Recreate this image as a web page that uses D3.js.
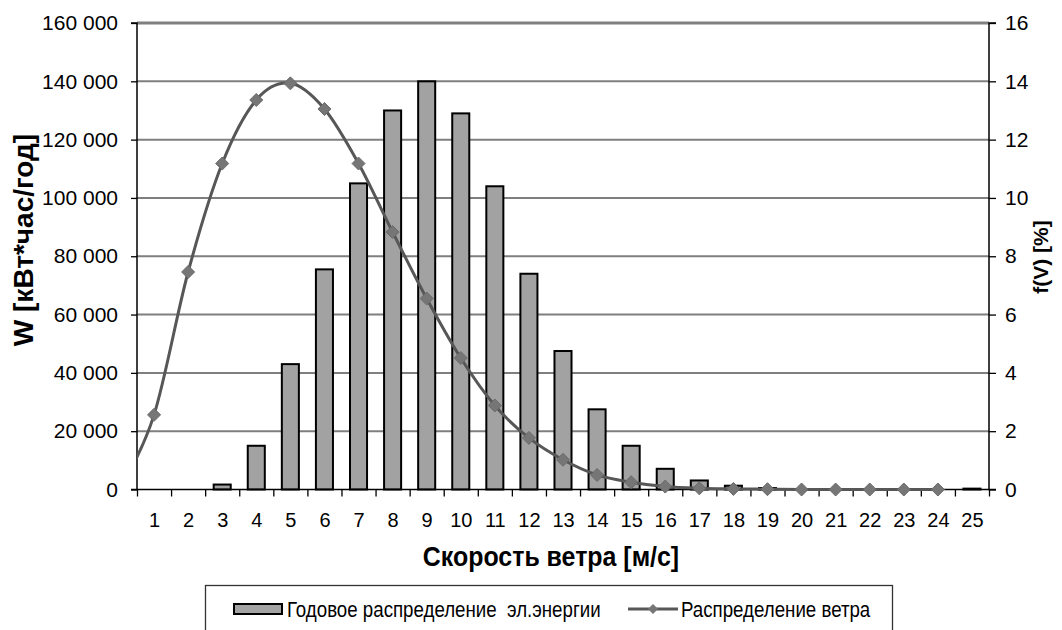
<!DOCTYPE html>
<html><head><meta charset="utf-8">
<script src="https://cdn.jsdelivr.net/npm/d3@7"></script>
<style>
html,body{margin:0;padding:0;background:#fff;}
svg{display:block;}
text{font-family:"Liberation Sans",Arial,sans-serif;fill:#000;}
</style></head>
<body>
<svg id="chart" width="1062" height="630"></svg>
<script>
// ---- data ----
const speeds = [1,2,3,4,5,6,7,8,9,10,11,12,13,14,15,16,17,18,19,20,21,22,23,24,25];
const energy = [0,0,1700,15000,43000,75500,105000,130000,140000,129000,104000,74000,47500,27500,15000,7100,3100,1300,500,0,0,0,0,0,300];
const windSpeeds = [0,1,2,3,4,5,6,7,8,9,10,11,12,13,14,15,16,17,18,19,20,21,22,23,24];
const windFreq =   [0,2.56,7.46,11.18,13.36,13.93,13.05,11.18,8.83,6.55,4.51,2.88,1.77,1.02,0.5,0.25,0.1,0.04,0.02,0.01,0,0,0,0,0];
const leftTicks = [0,20000,40000,60000,80000,100000,120000,140000,160000];
const rightTicks = [0,2,4,6,8,10,12,14,16];
const xTitle = "Скорость ветра [м/с]";
const yLeftTitle = "W [кВт*час/год]";
const yRightTitle = "f(V) [%]";
const legendBar = "Годовое распределение  эл.энергии";
const legendLine = "Распределение ветра";

// ---- layout ----
const L = 137, R = 989, T = 23, B = 489.5;
const svg = d3.select("#chart");
const x = d3.scaleLinear().domain([0.5, 25.5]).range([L, R]);
const yL = d3.scaleLinear().domain([0, 160000]).range([B, T]);
const yR = d3.scaleLinear().domain([0, 16]).range([B, T]);
const bw = (x(2) - x(1)) * 0.5;

const loc = d3.formatLocale({decimal:",", thousands:"\u00a0", grouping:[3], currency:["",""]});
const fmt = loc.format(",d");

// gridlines
svg.append("g").selectAll("line").data(leftTicks.filter(d => d > 0)).join("line")
  .attr("x1", L).attr("x2", R)
  .attr("y1", d => yL(d)).attr("y2", d => yL(d))
  .attr("stroke", "#7f7f7f").attr("stroke-width", d => d === 160000 ? 3 : 2);

// bars
svg.append("g").selectAll("rect").data(speeds.map((s, i) => ({s, v: energy[i]})).filter(d => d.v > 0)).join("rect")
  .attr("x", d => x(d.s) - bw / 2).attr("width", bw)
  .attr("y", d => yL(d.v)).attr("height", d => B - yL(d.v))
  .attr("fill", "#a2a2a2").attr("stroke", "#000").attr("stroke-width", 2);

// axes
const gL = svg.append("g").attr("transform", `translate(${L},0)`)
  .call(d3.axisLeft(yL).tickValues(leftTicks).tickFormat(fmt).tickSize(6).tickPadding(13));
const gR = svg.append("g").attr("transform", `translate(${R},0)`)
  .call(d3.axisRight(yR).tickValues(rightTicks).tickFormat(d3.format("d")).tickSize(7).tickPadding(9));
const gB = svg.append("g").attr("transform", `translate(0,${B})`)
  .call(d3.axisBottom(x).tickValues(speeds).tickFormat(d3.format("d")).tickSize(0).tickPadding(23));
const gBt = svg.append("g").attr("transform", `translate(0,${B})`)
  .call(d3.axisBottom(x).tickValues(d3.range(0.5, 26, 1)).tickFormat("").tickSize(7));
gBt.select(".domain").remove();
[gL, gR, gB, gBt].forEach(g => {
  g.selectAll(".domain").attr("stroke", "#000").attr("stroke-width", 1.5);
  g.selectAll(".tick line").attr("stroke", "#000").attr("stroke-width", 1.3);
  g.selectAll("text").attr("font-size", 21).attr("fill", "#000")
    .attr("font-family", '"Liberation Sans",Arial,sans-serif');
});
gL.select(".domain").attr("d", `M-6,${T}H0V${B}H-6`);
gR.select(".domain").attr("d", `M7,${T}H0V${B}H7`);
gB.select(".domain").attr("d", `M${L},0H${R}`);
gB.selectAll("text").attr("font-size", 20).attr("dy", "0.71em");

// wind line
const defs = svg.append("defs");
defs.append("clipPath").attr("id", "clip").append("rect")
  .attr("x", L).attr("y", T - 10).attr("width", R - L).attr("height", B - T + 20);
const pts = windSpeeds.map((s, i) => ({s, v: windFreq[i]}));
const line = d3.line().x(d => x(d.s)).y(d => yR(d.v)).curve(d3.curveCardinal);
svg.append("path").datum(pts).attr("d", line).attr("clip-path", "url(#clip)")
  .attr("fill", "none").attr("stroke", "#575757").attr("stroke-width", 3);
const diamond = r => `M0,${-r}L${r},0L0,${r}L${-r},0Z`;
svg.append("g").selectAll("path").data(pts.filter(d => d.s >= 1)).join("path")
  .attr("transform", d => `translate(${x(d.s)},${yR(d.v)})`)
  .attr("d", diamond(6.5)).attr("fill", "#767676").attr("stroke", "#6a6a6a").attr("stroke-width", 1);

// titles
function sq(sel, k) { sel.each(function(){ const t = d3.select(this); t.attr("transform", (t.attr("transform") || "") + ` scale(${k},1)`); }); }
svg.append("text").attr("transform", `translate(551,566)`)
  .attr("text-anchor", "middle").attr("font-size", 28).attr("font-weight", "bold").text(xTitle).call(sq, 0.89);
svg.append("text").attr("transform", `translate(33,240) rotate(-90)`)
  .attr("text-anchor", "middle").attr("font-size", 28).attr("font-weight", "bold").text(yLeftTitle).call(sq, 1);
svg.append("text").attr("transform", `translate(1048,257) rotate(-90)`)
  .attr("text-anchor", "middle").attr("font-size", 21).attr("font-weight", "bold").text(yRightTitle);

// legend
const lg = svg.append("g");
lg.append("rect").attr("x", 205.5).attr("y", 585.5).attr("width", 687).attr("height", 60)
  .attr("fill", "#fff").attr("stroke", "#333").attr("stroke-width", 1.3);
lg.append("rect").attr("x", 234).attr("y", 604).attr("width", 48).attr("height", 10)
  .attr("fill", "#a4a4a4").attr("stroke", "#000").attr("stroke-width", 2);
lg.append("text").attr("transform", "translate(287,617)").attr("font-size", 22)
  .attr("xml:space", "preserve").style("white-space", "pre").text(legendBar).call(sq, 0.85);
lg.append("line").attr("x1", 628).attr("x2", 678).attr("y1", 609).attr("y2", 609)
  .attr("stroke", "#575757").attr("stroke-width", 3);
lg.append("path").attr("transform", "translate(653,609)").attr("d", diamond(5)).attr("fill", "#767676");
lg.append("text").attr("transform", "translate(681,617)").attr("font-size", 22)
  .text(legendLine).call(sq, 0.85);
</script>
</body></html>
